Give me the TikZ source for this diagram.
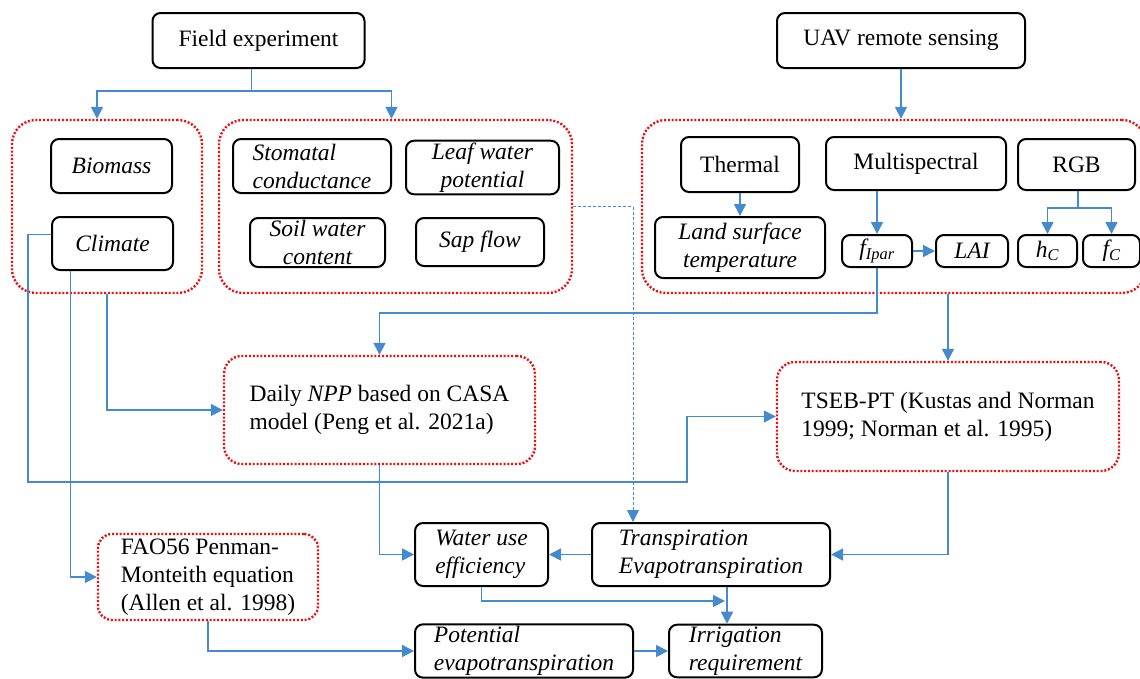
\documentclass[tikz,border=0pt]{standalone}
\usepackage{fontspec}
\setmainfont{Liberation Serif}
\usetikzlibrary{arrows.meta}

\definecolor{flowblue}{RGB}{68,138,206}
\definecolor{grpred}{RGB}{232,16,16}
\newcommand{\bodyfont}{\fontsize{23.5}{28}\selectfont}

\tikzset{
  blk/.style={draw=black, line width=2pt, rounded corners=8pt, inner sep=2pt, align=center},
  grp/.style={draw=grpred, line width=2.4pt, dash pattern=on 2pt off 1.8pt, rounded corners=24pt},
  itx/.style={font=\bodyfont\itshape},
  flow/.style={draw=flowblue, line width=1.6pt, -{Triangle[length=12pt,width=12pt]}},
  flowdash/.style={draw=flowblue, line width=0.8pt, dash pattern=on 3pt off 2pt, -{Triangle[length=12pt,width=12pt]}}
}

\begin{document}
\begin{tikzpicture}[x=1pt,y=1pt,yscale=-1,xscale=1, every node/.style={font=\bodyfont}]
\useasboundingbox (0,0) rectangle (1140,678);

% Group frames
\node[grp, minimum width=190pt, minimum height=173pt] (gleft) at (107,206.5) {};
\node[grp, minimum width=353pt, minimum height=173pt] (gmid) at (395.5,206.5) {};
\node[grp, minimum width=504pt, minimum height=173pt] (gright) at (894,206.5) {};
\node[grp, rounded corners=18pt, minimum width=311pt, minimum height=108pt, align=left] (npp) at (379.5,410) {Daily \textit{NPP} based on CASA\\model (Peng et al. 2021a)};
\node[grp, rounded corners=18pt, minimum width=342pt, minimum height=109pt, align=left] (tseb) at (948,416.5) {TSEB-PT (Kustas and Norman\\1999; Norman et al. 1995)};
\node[grp, rounded corners=14pt, minimum width=220pt, minimum height=86pt, align=left] (fao) at (208,577) {FAO56 Penman-\\Monteith equation\\(Allen et al. 1998)};

% Sources
\node[blk, minimum width=212pt, minimum height=55pt] (field) at (258.5,40.5) {Field experiment};
\node[blk, minimum width=248pt, minimum height=55pt] (uav) at (901,40.5) {UAV remote sensing};

% Field measurements
\node[blk, itx, minimum width=121pt, minimum height=54pt] (biomass) at (111.5,166) {Biomass};
\node[blk, itx, minimum width=121pt, minimum height=53pt] (climate) at (112.5,243.5) {Climate};
\node[blk, itx, align=left, minimum width=158pt, minimum height=54pt] (stomatal) at (312,166) {Stomatal\\conductance};
\node[blk, itx, minimum width=153pt, minimum height=51pt] (leafw) at (482.5,167.5) {Leaf water\\potential};
\node[blk, itx, minimum width=135pt, minimum height=49pt] (soilw) at (317.5,242.5) {Soil water\\content};
\node[blk, itx, minimum width=128pt, minimum height=48pt] (sapflow) at (480,242) {Sap flow};

% UAV sensors and products
\node[blk, minimum width=118pt, minimum height=55pt] (thermal) at (740,164.5) {Thermal};
\node[blk, minimum width=180pt, minimum height=53pt] (multi) at (916,163.5) {Multispectral};
\node[blk, minimum width=117pt, minimum height=51pt] (rgb) at (1076.5,164.5) {RGB};
\node[blk, itx, minimum width=170pt, minimum height=61pt] (lst) at (740,247.5) {Land surface\\temperature};
\node[blk, itx, minimum width=70pt, minimum height=32pt] (fipar) at (877,251) {f\textsubscript{Ipar}};
\node[blk, itx, minimum width=72pt, minimum height=32pt] (lai) at (972,251) {LAI};
\node[blk, itx, minimum width=59pt, minimum height=32pt] (hc) at (1047.5,251) {h\textsubscript{C}};
\node[blk, itx, minimum width=57pt, minimum height=32pt] (fc) at (1111.5,251) {f\textsubscript{C}};

% Results
\node[blk, itx, align=left, minimum width=133pt, minimum height=63pt] (wue) at (481.5,554.5) {Water use\\efficiency};
\node[blk, itx, align=left, minimum width=238pt, minimum height=63pt] (transp) at (711,554.5) {Transpiration\\Evapotranspiration};
\node[blk, itx, align=left, minimum width=218pt, minimum height=52pt] (pet) at (524,651) {Potential\\evapotranspiration};
\node[blk, itx, align=left, minimum width=153pt, minimum height=52pt] (irr) at (745.5,651) {Irrigation\\requirement};

\coordinate (wjoin) at (725,601);

% Connectors
\draw[flow] ([xshift=-7pt]field.south) -- ++(0,22) -| ([xshift=-10pt]gleft.north);
\draw[flow] ([xshift=-7pt]field.south) -- ++(0,22) -| ([xshift=-4pt]gmid.north);
\draw[flow] (uav.south) -- (uav.south |- gright.north);
\draw[flow] (thermal.south) -- (lst.north);
\draw[flow] (fipar.north |- multi.south) -- (fipar.north);
\draw[flow] ([xshift=1.5pt]rgb.south) -- ++(0,17) -| (hc.north);
\draw[flow] ([xshift=1.5pt]rgb.south) -- ++(0,17) -| (fc.north);
\draw[flow] (fipar.east) -- (lai.west);
\draw[flow] (fipar.south) -- ++(0,45) -| (npp.north);
\draw[flow] (tseb.north |- gright.south) -- (tseb.north);
\draw[flow] (gleft.south) |- (npp.west);
\draw[flow] (climate.west |- 0,234.5) -| (28,482) -| ([xshift=-89pt]tseb.west) -- (tseb.west);
\draw[flow] ([xshift=-42pt]climate.south) |- (fao.west);
\draw[flow] (npp.south) |- (wue.west);
\draw[flow] (tseb.south) |- (transp.east);
\draw[flow] (transp.west) -- (wue.east);
\draw[flowdash] (gmid.east) -| ([xshift=-78pt]transp.north);
\draw[flow] (wue.south) |- (wjoin);
\draw[flow] ([xshift=16pt]transp.south) -- ([xshift=-18.5pt]irr.north);
\draw[flow] (fao.south) |- (pet.west);
\draw[flow] (pet.east) -- (irr.west);

\end{tikzpicture}
\end{document}
